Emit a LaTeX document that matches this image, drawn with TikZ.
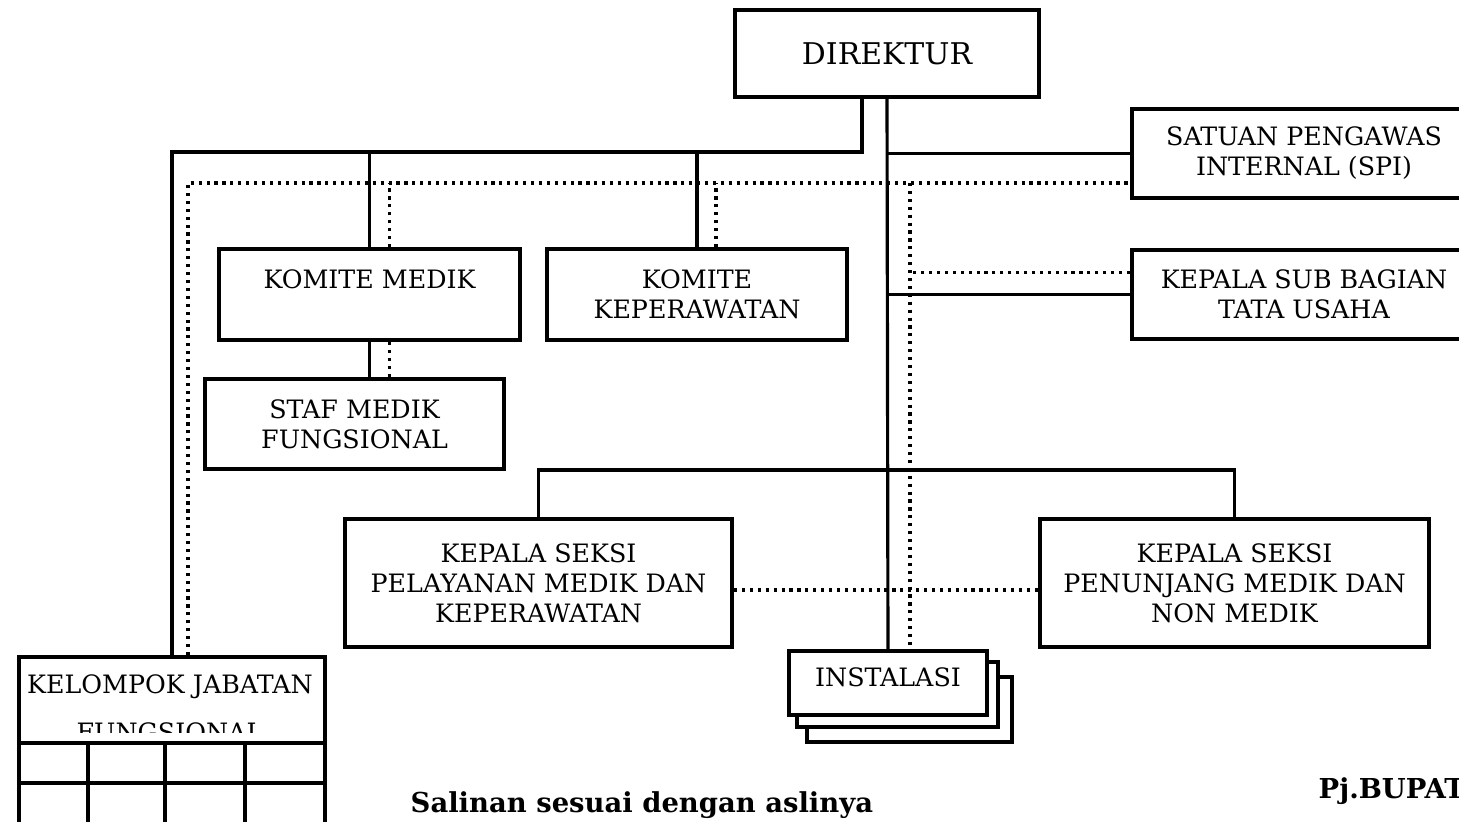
\documentclass[tikz,border=0pt]{standalone}
\usepackage{fontspec}
\setmainfont{DejaVu Serif}
\usepackage{tikz}

\begin{document}
\begin{tikzpicture}[x=0.01cm, y=-0.01cm,
    box/.style={draw, line width=1.1pt, fill=white, align=center, inner sep=0pt,
      anchor=north west, font=\fontsize{7.2}{8.5}\selectfont},
    solidline/.style={line width=0.9pt},
    dotline/.style={line width=0.9pt, dash pattern=on 0.9pt off 1.35pt},
    footnote/.style={anchor=base west, inner sep=0pt, font=\bfseries\fontsize{7.8}{9}\selectfont}]
  \useasboundingbox (0,0) rectangle (1459,822);
  \clip (0,0) rectangle (1459,822);

  % boxes
  \node[box, minimum width=3.04cm, minimum height=0.87cm, font=\fontsize{8.5}{10}\selectfont] (direktur) at (733,8) {DIREKTUR};
  \node[box, minimum width=3.44cm, minimum height=0.89cm] (spi) at (1130,107) {SATUAN PENGAWAS\\INTERNAL (SPI)};
  \node[box, minimum width=3.44cm, minimum height=0.89cm] (kasubag) at (1130,248) {KEPALA SUB BAGIAN\\TATA USAHA};
  \node[box, minimum width=3.01cm, minimum height=0.91cm] (komitemedik) at (217,247) {KOMITE MEDIK\\\mbox{}};
  \node[box, minimum width=3.00cm, minimum height=0.91cm] (komitekep) at (545,247) {KOMITE\\KEPERAWATAN};
  \node[box, minimum width=2.99cm, minimum height=0.90cm] (stafmedik) at (203,377) {STAF MEDIK\\FUNGSIONAL};
  \node[box, minimum width=3.87cm, minimum height=1.28cm] (yanmed) at (343,517) {KEPALA SEKSI\\PELAYANAN MEDIK DAN\\KEPERAWATAN};
  \node[box, minimum width=3.89cm, minimum height=1.28cm] (penunjang) at (1038,517) {KEPALA SEKSI\\PENUNJANG MEDIK DAN\\NON MEDIK};

  % instalasi (stacked)
  \draw[line width=1.1pt, fill=white] (807,677) rectangle (1012,742);
  \draw[line width=1.1pt, fill=white] (797,662) rectangle (998,727);
  \node[box, minimum width=1.98cm, minimum height=0.64cm] (instalasi) at (787,649) {INSTALASI\\[-5pt]\mbox{}};

  % kelompok jabatan fungsional
  \node[box, minimum width=3.06cm, minimum height=1.75cm] (kelompok) at (17,655) {};
  \begin{scope}
    \clip (17,655) rectangle (323,733);
    \node[anchor=north, align=center, inner sep=0pt, font=\fontsize{7.2}{13.6}\selectfont] (kjf) at (170,674) {KELOMPOK JABATAN\\FUNGSIONAL};
  \end{scope}
  \draw[line width=1.1pt] (17,743) -- (323,743) (17,783) -- (323,783);
  \foreach \cx in {88,165,245}
    \draw[line width=1.1pt] (\cx,743) -- (\cx,830);

  % garis komando
  \coordinate (jleft) at (862,152);
  \coordinate (seksi) at (885,470);
  \draw[solidline] (direktur.south -| jleft) -- (jleft) -| (kelompok.north);
  \draw[solidline] (komitemedik.north) -- (komitemedik.north |- jleft);
  \draw[solidline] (komitekep.north) -- (komitekep.north |- jleft);
  \draw[solidline] (komitemedik.south) -- (komitemedik.south |- stafmedik.north);
  \draw[solidline] (direktur.south) -- (instalasi.north);
  \draw[solidline] (direktur.south |- spi.west) -- (spi.west);
  \draw[solidline] (direktur.south |- kasubag.west) -- (kasubag.west);
  \draw[solidline] (yanmed.north) |- (seksi) -| (penunjang.north);

  % garis koordinasi
  \coordinate (dleft) at (188,183);
  \coordinate (dright) at (910,183);
  \draw[dotline] (kelompok.north -| dleft) -- (dleft) -- (dleft -| spi.west);
  \draw[dotline] ([xshift=0.2cm]komitemedik.north) -- ([xshift=0.2cm]komitemedik.north |- dleft);
  \draw[dotline] ([xshift=0.2cm]komitemedik.south) -- ([xshift=0.2cm]komitemedik.south |- stafmedik.north);
  \draw[dotline] ([xshift=0.19cm]komitekep.north) -- ([xshift=0.19cm]komitekep.north |- dleft);
  \draw[dotline] (dright) -- (dright |- instalasi.north);
  \draw[dotline] ([yshift=0.22cm]kasubag.west) -- ([yshift=0.22cm]kasubag.west -| dright);
  \draw[dotline] ([yshift=-0.07cm]yanmed.east) -- ([yshift=-0.07cm]yanmed.east -| penunjang.west);

  % keterangan
  \node[footnote] (salinan) at (410,813) {Salinan sesuai dengan aslinya};
  \node[footnote] (bupati) at (1318,799) {Pj.BUPATI};
\end{tikzpicture}
\end{document}
